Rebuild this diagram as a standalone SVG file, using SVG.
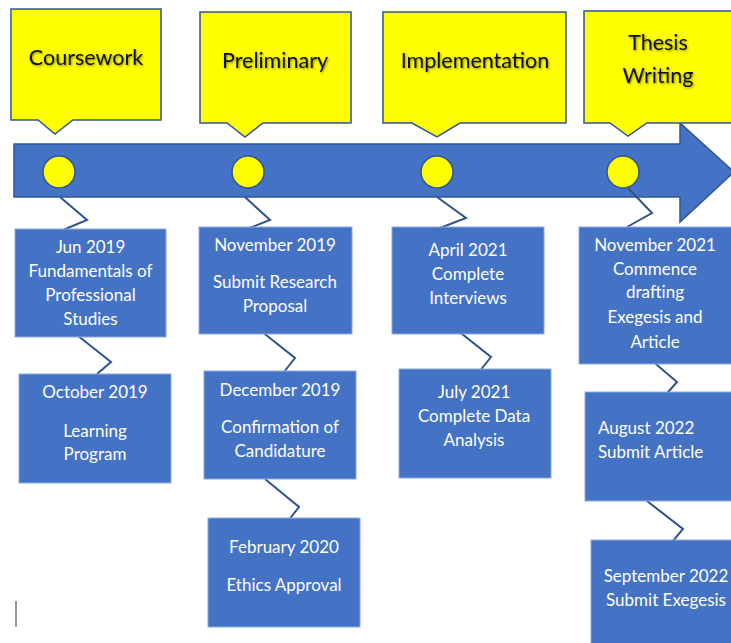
<svg xmlns="http://www.w3.org/2000/svg" width="731" height="643" viewBox="0 0 731 643">
<defs>
<filter id="sh" x="-10%" y="-30%" width="120%" height="160%">
<feDropShadow dx="1" dy="1.2" stdDeviation="0.9" flood-color="#000" flood-opacity="0.45"/>
</filter>
</defs>
<style>
.call{fill:#FFFF00;stroke:#2F5597;stroke-width:1.5}
.title{font-family:Lato,"Open Sans",sans-serif;font-size:21.5px;fill:#111;text-anchor:middle;filter:url(#sh)}
.box{fill:#4472C4;stroke:#8EA9DB;stroke-width:1}
.t{font-family:Lato,"Open Sans",sans-serif;font-size:17px;fill:#fff;text-anchor:middle}
.dot{fill:#FFFF00;stroke:#2F5597;stroke-width:1.5}
.conn{fill:none;stroke:#2F528F;stroke-width:2;stroke-linejoin:miter}
</style>
<rect width="731" height="643" fill="#fff"/>

<g id="timeline-arrow">
<path d="M14,144 L680,144 L680,123 L734,172 L680,222 L680,197 L14,197 Z" fill="#4472C4" stroke="#2F5597" stroke-width="1.5"/>
</g>

<g id="phase-coursework">
<path class="call" d="M11,9 H161 V120 H73 L55,134 L38,120 H11 Z"/>
<text class="title" x="86" y="65">Coursework</text>
</g>
<g id="phase-preliminary">
<path class="call" d="M200,12 H351 V123 H263 L245,137 L227,123 H200 Z"/>
<text class="title" x="275" y="68">Preliminary</text>
</g>
<g id="phase-implementation">
<path class="call" d="M383,12 H566 V123 H460 L437,137 L412,123 H383 Z"/>
<text class="title" x="475" y="68">Implementation</text>
</g>
<g id="phase-thesis">
<path class="call" d="M584,11 H740 V123 H647 L628,136 L610,123 H584 Z"/>
<text class="title" x="658" y="50">Thesis</text>
<text class="title" x="658" y="83">Writing</text>
</g>

<g id="milestone-dots">
<circle class="dot" cx="59" cy="172" r="16"/>
<circle class="dot" cx="248" cy="172" r="16"/>
<circle class="dot" cx="437" cy="172" r="16"/>
<circle class="dot" cx="623" cy="172" r="16"/>
</g>

<g id="connectors">
<polyline class="conn" points="60,197 87,220 63,230"/>
<polyline class="conn" points="245,197 270,220 247,229"/>
<polyline class="conn" points="437,197 466,218 440,228"/>
<polyline class="conn" points="628,188 652,213 627,227"/>
<polyline class="conn" points="77,335 111,362 97,374"/>
<polyline class="conn" points="261,331 295,358 280,377"/>
<polyline class="conn" points="265,479 299,507 284,526"/>
<polyline class="conn" points="457,330 491,357 475,377"/>
<polyline class="conn" points="643,353 677,382 661,400"/>
<polyline class="conn" points="647,501 683,529 667,548"/>
</g>

<g id="box-jun2019">
<rect class="box" x="15" y="229" width="151" height="108"/>
<text class="t" x="90.5" y="253">Jun 2019</text>
<text class="t" x="90.5" y="277">Fundamentals of</text>
<text class="t" x="90.5" y="301">Professional</text>
<text class="t" x="90.5" y="325">Studies</text>
</g>
<g id="box-oct2019">
<rect class="box" x="19" y="374" width="152" height="109"/>
<text class="t" x="95" y="398">October 2019</text>
<text class="t" x="95" y="437">Learning</text>
<text class="t" x="95" y="460">Program</text>
</g>
<g id="box-nov2019">
<rect class="box" x="199" y="227" width="153" height="107"/>
<text class="t" x="275" y="251">November 2019</text>
<text class="t" x="275" y="288">Submit Research</text>
<text class="t" x="275" y="312">Proposal</text>
</g>
<g id="box-dec2019">
<rect class="box" x="204" y="371" width="152" height="108"/>
<text class="t" x="280" y="396">December 2019</text>
<text class="t" x="280" y="433">Confirmation of</text>
<text class="t" x="280" y="457">Candidature</text>
</g>
<g id="box-feb2020">
<rect class="box" x="208" y="518" width="152" height="109"/>
<text class="t" x="284" y="553">February 2020</text>
<text class="t" x="284" y="591">Ethics Approval</text>
</g>
<g id="box-apr2021">
<rect class="box" x="392" y="227" width="152" height="107"/>
<text class="t" x="468" y="256">April 2021</text>
<text class="t" x="468" y="280">Complete</text>
<text class="t" x="468" y="304">Interviews</text>
</g>
<g id="box-jul2021">
<rect class="box" x="399" y="369" width="152" height="109"/>
<text class="t" x="474" y="398">July 2021</text>
<text class="t" x="474" y="422">Complete Data</text>
<text class="t" x="474" y="446">Analysis</text>
</g>
<g id="box-nov2021">
<rect class="box" x="579" y="227" width="160" height="137"/>
<text class="t" x="655" y="251">November 2021</text>
<text class="t" x="655" y="275">Commence</text>
<text class="t" x="655" y="298">drafting</text>
<text class="t" x="655" y="323">Exegesis and</text>
<text class="t" x="655" y="348">Article</text>
</g>
<g id="box-aug2022">
<rect class="box" x="585" y="392" width="154" height="109"/>
<text class="t" x="598" y="434" style="text-anchor:start">August 2022</text>
<text class="t" x="598" y="458" style="text-anchor:start">Submit Article</text>
</g>
<g id="box-sep2022">
<rect class="box" x="591" y="540" width="150" height="110"/>
<text class="t" x="666" y="582">September 2022</text>
<text class="t" x="666" y="606">Submit Exegesis</text>
</g>

<line x1="16" y1="601" x2="16" y2="627" stroke="#555" stroke-width="1.2"/>
</svg>
